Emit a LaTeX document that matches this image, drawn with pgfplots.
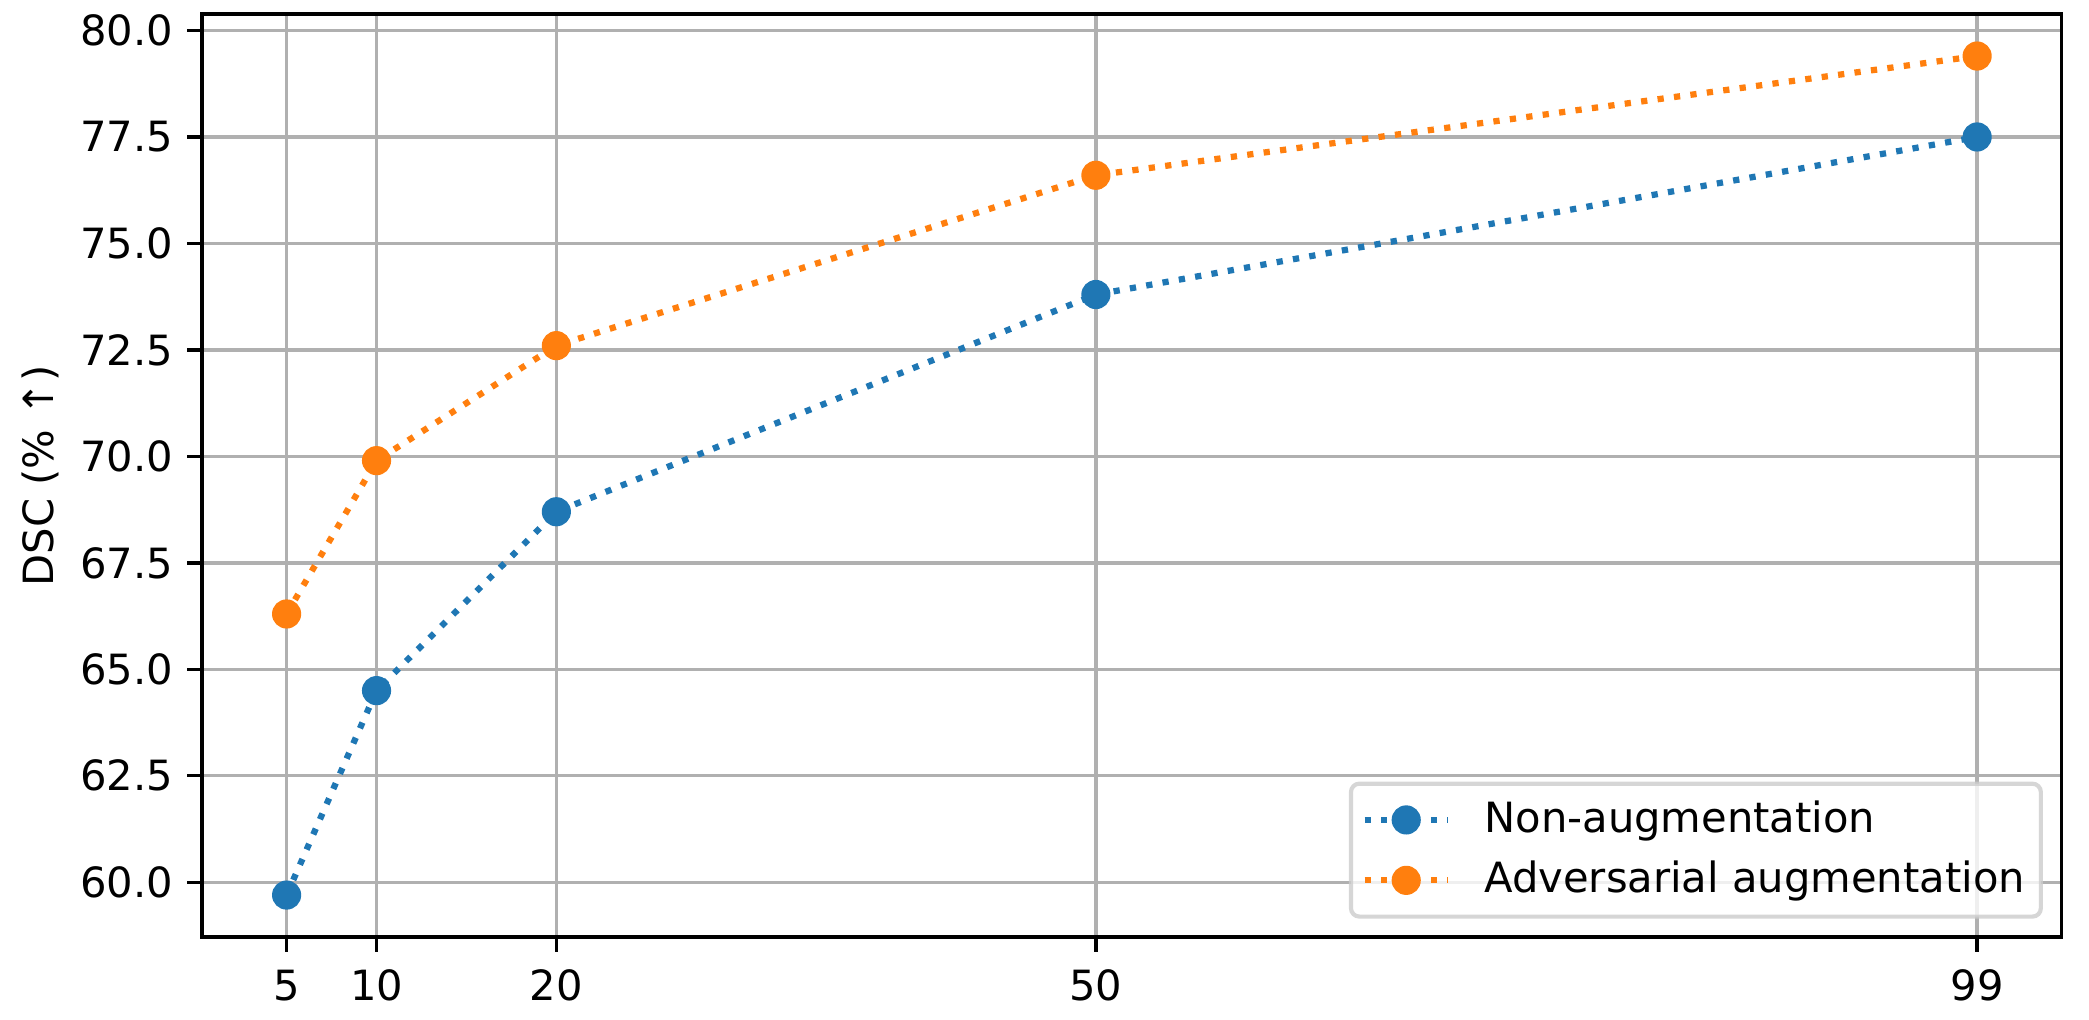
\documentclass[border=0pt]{standalone}
\usepackage{pgfplots}
\pgfplotsset{compat=1.18}
\usepackage{fontspec}
\setmainfont{DejaVu Sans}
\definecolor{tabblue}{HTML}{1F77B4}
\definecolor{taborange}{HTML}{FF7F0E}
\definecolor{gridgray}{HTML}{B0B0B0}
\definecolor{legendgray}{HTML}{CCCCCC}
\begin{document}
\begin{tikzpicture}
\useasboundingbox (-48.5pt,-19.68pt) rectangle (452.86pt,224.88pt);
\begin{axis}[
  at={(0,0)}, anchor=south west,
  width=446.3pt, height=221.5pt, scale only axis,
  xmin=0.3, xmax=103.7, ymin=58.715, ymax=80.385,
  xtick={5,10,20,50,99},
  ytick={60,62.5,65,67.5,70,72.5,75,77.5,80},
  scaled ticks=false,
  /pgf/number format/assume math mode=true,
  yticklabel style={/pgf/number format/fixed, /pgf/number format/fixed zerofill, /pgf/number format/precision=1},
  xticklabel style={yshift=-0.8pt, /pgf/number format/fixed, /pgf/number format/precision=0},
  tick label style={font=\fontsize{10}{12}\selectfont},
  grid=major,
  grid style={color=gridgray, line width=0.8pt},
  axis line style={line width=0.8pt, black},
  tick style={line width=0.8pt, black},
  major tick length=3.5pt,
  tick align=outside,
  tick pos=left,
  ylabel={DSC (\% ↑)},
  ylabel style={font=\fontsize{10}{12}\selectfont, at={([xshift=-35.7pt]axis description cs:0,0.5)}, anchor=base},
  legend cell align=left,
  legend style={at={(1,0)}, anchor=south east, xshift=-5pt, yshift=4.9pt,
    outer sep=0pt,
    draw=legendgray, line width=1pt, rounded corners=2pt,
    fill=white, fill opacity=0.8, draw opacity=0.8, text opacity=1,
    inner xsep=2.5pt, inner ysep=3.44pt, row sep=3.98pt, column sep=8pt,
    nodes={inner sep=0pt, text height=8.16pt, text depth=2.36pt},
    font=\fontsize{10}{12}\selectfont},
  legend image code/.code={%
    \draw[opacity=1, mark repeat=2, mark phase=2] plot coordinates {(0pt,0pt) (10pt,0pt) (20pt,0pt)};},
]
\addplot[color=tabblue, line width=1.5pt, dash pattern=on 1.5pt off 2.475pt,
  mark=*, mark size=3.3pt, mark options={solid, line width=0.4pt, fill=tabblue}]
  coordinates {(5,59.7) (10,64.5) (20,68.7) (50,73.8) (99,77.5)};
\addlegendentry{Non-augmentation\rule{1.3pt}{0pt}}
\addplot[color=taborange, line width=1.5pt, dash pattern=on 1.5pt off 2.475pt,
  mark=*, mark size=3.3pt, mark options={solid, line width=0.4pt, fill=taborange}]
  coordinates {(5,66.3) (10,69.9) (20,72.6) (50,76.6) (99,79.4)};
\addlegendentry{Adversarial augmentation\rule{1.3pt}{0pt}}
\end{axis}
\end{tikzpicture}
\end{document}
